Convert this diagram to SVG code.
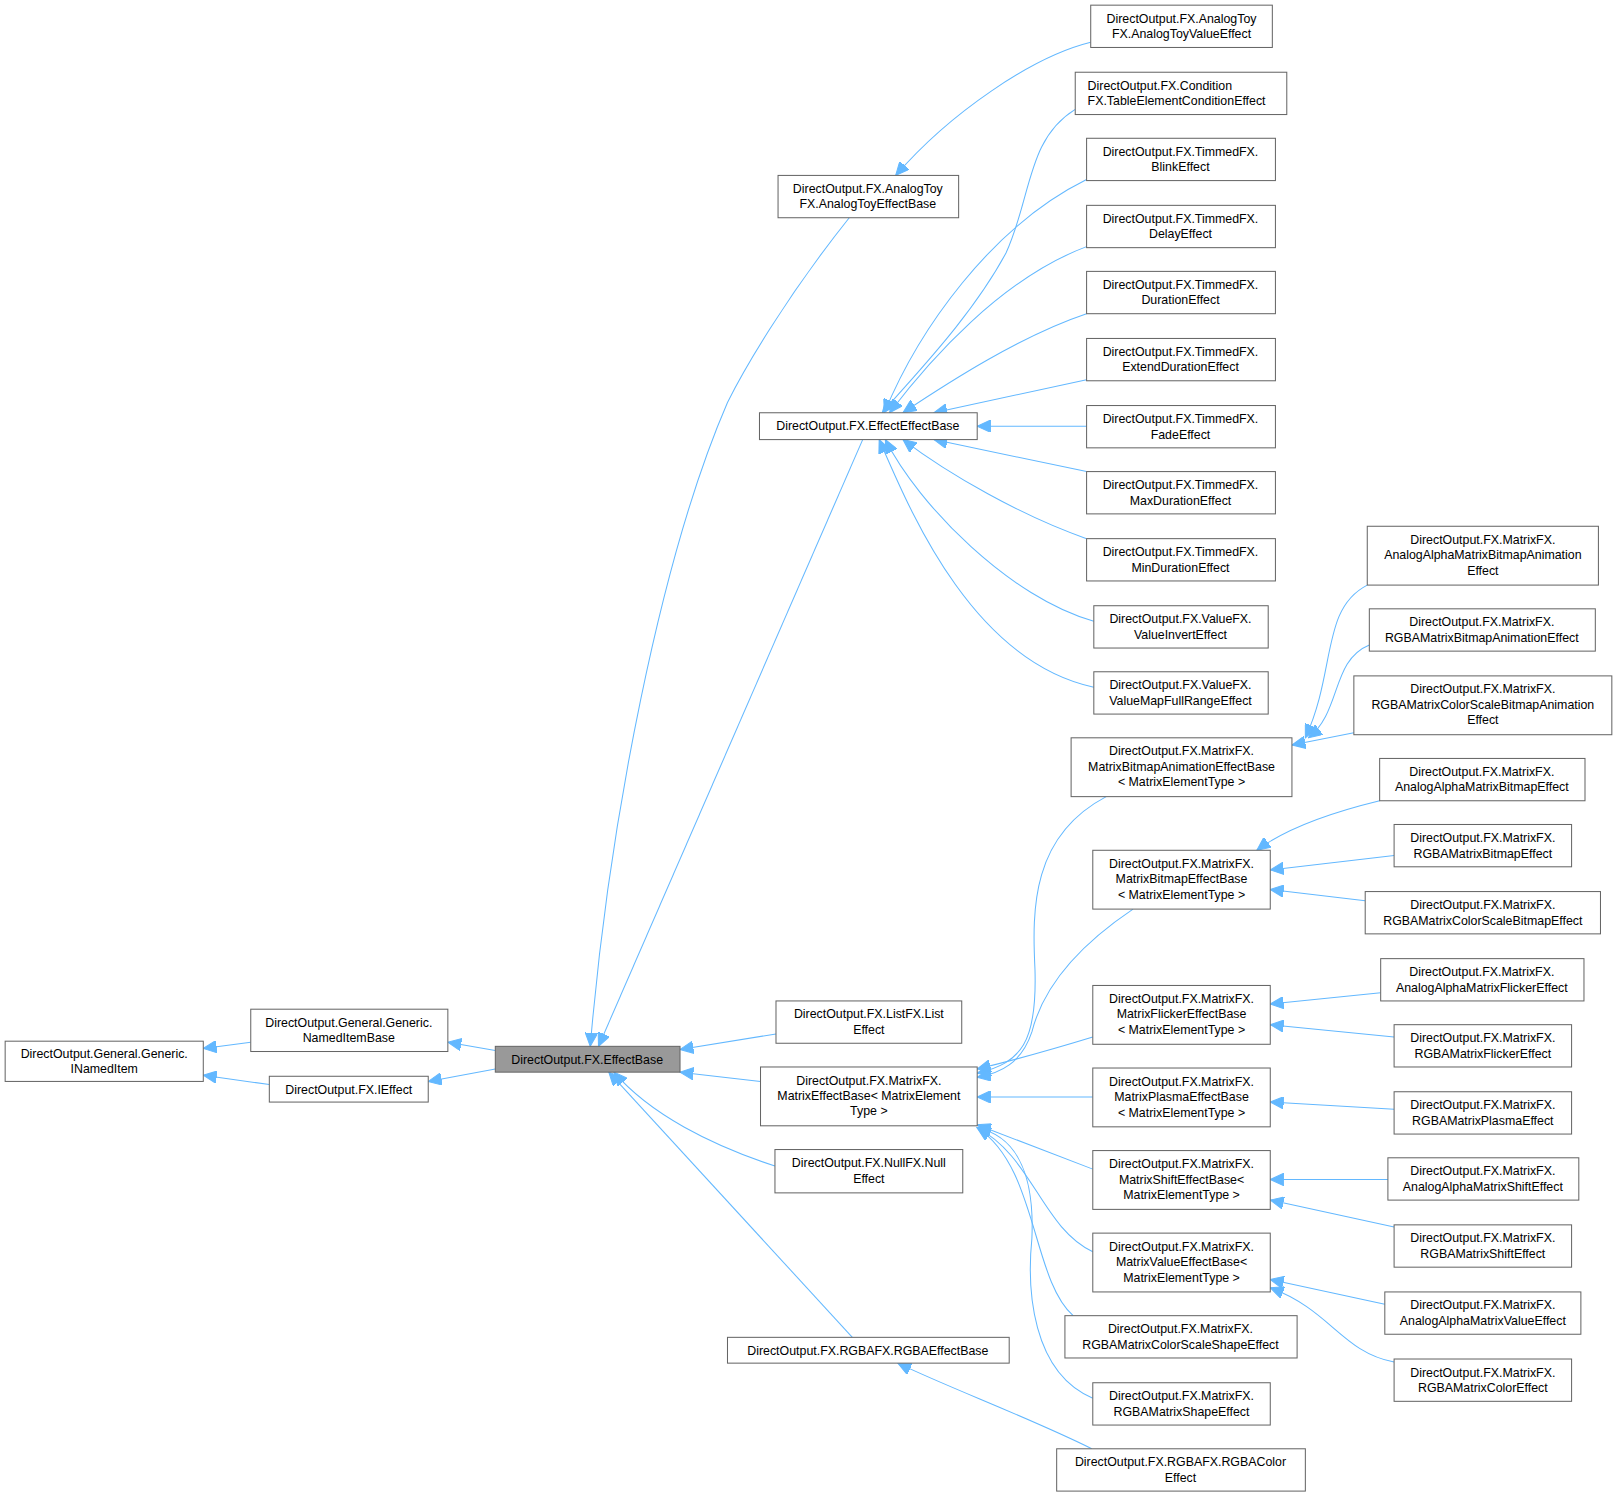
<svg xmlns="http://www.w3.org/2000/svg" width="1618" height="1497" viewBox="0 0 1618 1497">
<style>
.n rect{fill:#fff;stroke:#666;stroke-width:1}
.n text{font-family:"Liberation Sans",Arial,sans-serif;font-size:12px;fill:#000;text-anchor:middle}
#edges path{fill:none;stroke:#63b8ff;stroke-width:1;marker-end:url(#a)}
</style>
<defs><marker id="a" markerUnits="userSpaceOnUse" markerWidth="14" markerHeight="12" refX="13" refY="6" orient="auto"><path d="M0,0 L13,6 L0,12 Z" fill="#63b8ff" stroke="#63b8ff"/></marker></defs>
<rect width="1618" height="1497" fill="#fff"/>
<g transform="scale(1.0319)">
<g id="edges">
<path d="M243,1010 L197,1016"/>
<path d="M261,1051 L197,1042"/>
<path d="M480,1018 L434,1010"/>
<path d="M480,1036 L415,1048"/>
<path d="M823,211 C760,290 720,360 705,390 C640,540 590,800 572,1014"/>
<path d="M836,426 L580,1014"/>
<path d="M752,1002 L659,1017"/>
<path d="M737,1048 L659,1039"/>
<path d="M751,1130 C690,1110 630,1080 595,1039"/>
<path d="M826,1296 L590,1039"/>
<path d="M1058,1404 C1000,1375 920,1345 870,1321"/>
<path d="M1057,41 C1000,55 920,110 868,170"/>
<path d="M1042,106 C995,135 1000,190 975,245 C940,310 880,370 855,400"/>
<path d="M1053,174 C960,220 890,320 857,400"/>
<path d="M1053,239 C970,270 900,350 862,400"/>
<path d="M1053,304 C990,325 920,370 875,400"/>
<path d="M1053,368 L905,400"/>
<path d="M1053,413 L947,413"/>
<path d="M1053,457 L905,426"/>
<path d="M1053,522 C990,500 920,460 875,426"/>
<path d="M1060,602 C980,580 890,490 858,426"/>
<path d="M1060,666 C940,640 880,490 852,426"/>
<path d="M1072,772 C1000,810 1000,880 1003,940 C1005,1010 990,1030 947,1040"/>
<path d="M1098,881 C1040,920 1010,960 1000,1000 C990,1030 970,1040 947,1044"/>
<path d="M1059,1005 C1010,1020 980,1028 947,1036"/>
<path d="M1059,1063 L947,1063"/>
<path d="M1059,1133 L947,1090"/>
<path d="M1059,1213 C1010,1190 1000,1120 947,1093"/>
<path d="M1040,1275 C1000,1240 1005,1130 947,1093"/>
<path d="M1059,1355 C1000,1330 995,1250 1000,1200 C1003,1130 980,1100 947,1093"/>
<path d="M1325,567 C1280,590 1295,650 1265,715"/>
<path d="M1327,625 C1290,640 1300,690 1268,715"/>
<path d="M1312,710 L1252,722"/>
<path d="M1337,776 C1300,785 1250,800 1218,824"/>
<path d="M1351,829 L1231,843"/>
<path d="M1323,873 L1231,862"/>
<path d="M1338,962 L1231,973"/>
<path d="M1351,1005 L1231,993"/>
<path d="M1351,1075 L1231,1068"/>
<path d="M1345,1143 L1231,1143"/>
<path d="M1351,1189 L1231,1163"/>
<path d="M1342,1264 L1231,1240"/>
<path d="M1351,1320 C1300,1310 1290,1270 1231,1248"/>
</g>
<g id="INamedItem" class="n"><rect x="5" y="1009" width="192" height="39"/><text x="101" y="1025">DirectOutput.General.Generic.</text><text x="101" y="1040">INamedItem</text></g>
<g id="NamedItemBase" class="n"><rect x="243" y="978" width="191" height="41"/><text x="338" y="995">DirectOutput.General.Generic.</text><text x="338" y="1010">NamedItemBase</text></g>
<g id="IEffect" class="n"><rect x="261" y="1043" width="154" height="25"/><text x="338" y="1060">DirectOutput.FX.IEffect</text></g>
<g id="EffectBase" class="n"><rect x="480" y="1014" width="179" height="25" style="fill:#999"/><text x="569" y="1031">DirectOutput.FX.EffectBase</text></g>
<g id="AnalogToyEffectBase" class="n"><rect x="754" y="170" width="175" height="41"/><text x="841" y="187">DirectOutput.FX.AnalogToy</text><text x="841" y="202">FX.AnalogToyEffectBase</text></g>
<g id="EffectEffectBase" class="n"><rect x="736" y="400" width="211" height="26"/><text x="841" y="417">DirectOutput.FX.EffectEffectBase</text></g>
<g id="ListEffect" class="n"><rect x="752" y="970" width="180" height="41"/><text x="842" y="987">DirectOutput.FX.ListFX.List</text><text x="842" y="1002">Effect</text></g>
<g id="MatrixEffectBase" class="n"><rect x="737" y="1034" width="210" height="57"/><text x="842" y="1051">DirectOutput.FX.MatrixFX.</text><text x="842" y="1066">MatrixEffectBase&lt; MatrixElement</text><text x="842" y="1081">Type &gt;</text></g>
<g id="NullEffect" class="n"><rect x="751" y="1114" width="182" height="42"/><text x="842" y="1131">DirectOutput.FX.NullFX.Null</text><text x="842" y="1146">Effect</text></g>
<g id="RGBAEffectBase" class="n"><rect x="705" y="1296" width="273" height="25"/><text x="841" y="1313">DirectOutput.FX.RGBAFX.RGBAEffectBase</text></g>
<g id="AnalogToyValueEffect" class="n"><rect x="1057" y="5" width="176" height="41"/><text x="1145" y="22">DirectOutput.FX.AnalogToy</text><text x="1145" y="37">FX.AnalogToyValueEffect</text></g>
<g id="TableElementConditionEffect" class="n"><rect x="1042" y="70" width="205" height="41"/><text x="1054" y="87" style="text-anchor:start">DirectOutput.FX.Condition</text><text x="1054" y="102" style="text-anchor:start">FX.TableElementConditionEffect</text></g>
<g id="BlinkEffect" class="n"><rect x="1053" y="134" width="183" height="41"/><text x="1144" y="151">DirectOutput.FX.TimmedFX.</text><text x="1144" y="166">BlinkEffect</text></g>
<g id="DelayEffect" class="n"><rect x="1053" y="199" width="183" height="41"/><text x="1144" y="216">DirectOutput.FX.TimmedFX.</text><text x="1144" y="231">DelayEffect</text></g>
<g id="DurationEffect" class="n"><rect x="1053" y="263" width="183" height="41"/><text x="1144" y="280">DirectOutput.FX.TimmedFX.</text><text x="1144" y="295">DurationEffect</text></g>
<g id="ExtendDurationEffect" class="n"><rect x="1053" y="328" width="183" height="41"/><text x="1144" y="345">DirectOutput.FX.TimmedFX.</text><text x="1144" y="360">ExtendDurationEffect</text></g>
<g id="FadeEffect" class="n"><rect x="1053" y="393" width="183" height="41"/><text x="1144" y="410">DirectOutput.FX.TimmedFX.</text><text x="1144" y="425">FadeEffect</text></g>
<g id="MaxDurationEffect" class="n"><rect x="1053" y="457" width="183" height="41"/><text x="1144" y="474">DirectOutput.FX.TimmedFX.</text><text x="1144" y="489">MaxDurationEffect</text></g>
<g id="MinDurationEffect" class="n"><rect x="1053" y="522" width="183" height="41"/><text x="1144" y="539">DirectOutput.FX.TimmedFX.</text><text x="1144" y="554">MinDurationEffect</text></g>
<g id="ValueInvertEffect" class="n"><rect x="1060" y="587" width="169" height="41"/><text x="1144" y="604">DirectOutput.FX.ValueFX.</text><text x="1144" y="619">ValueInvertEffect</text></g>
<g id="ValueMapFullRangeEffect" class="n"><rect x="1060" y="651" width="169" height="41"/><text x="1144" y="668">DirectOutput.FX.ValueFX.</text><text x="1144" y="683">ValueMapFullRangeEffect</text></g>
<g id="MatrixBitmapAnimationEffectBase" class="n"><rect x="1038" y="715" width="214" height="57"/><text x="1145" y="732">DirectOutput.FX.MatrixFX.</text><text x="1145" y="747">MatrixBitmapAnimationEffectBase</text><text x="1145" y="762">&lt; MatrixElementType &gt;</text></g>
<g id="MatrixBitmapEffectBase" class="n"><rect x="1059" y="824" width="172" height="57"/><text x="1145" y="841">DirectOutput.FX.MatrixFX.</text><text x="1145" y="856">MatrixBitmapEffectBase</text><text x="1145" y="871">&lt; MatrixElementType &gt;</text></g>
<g id="MatrixFlickerEffectBase" class="n"><rect x="1059" y="955" width="172" height="57"/><text x="1145" y="972">DirectOutput.FX.MatrixFX.</text><text x="1145" y="987">MatrixFlickerEffectBase</text><text x="1145" y="1002">&lt; MatrixElementType &gt;</text></g>
<g id="MatrixPlasmaEffectBase" class="n"><rect x="1059" y="1035" width="172" height="57"/><text x="1145" y="1052">DirectOutput.FX.MatrixFX.</text><text x="1145" y="1067">MatrixPlasmaEffectBase</text><text x="1145" y="1082">&lt; MatrixElementType &gt;</text></g>
<g id="MatrixShiftEffectBase" class="n"><rect x="1059" y="1115" width="172" height="57"/><text x="1145" y="1132">DirectOutput.FX.MatrixFX.</text><text x="1145" y="1147">MatrixShiftEffectBase&lt;</text><text x="1145" y="1162">MatrixElementType &gt;</text></g>
<g id="MatrixValueEffectBase" class="n"><rect x="1059" y="1195" width="172" height="57"/><text x="1145" y="1212">DirectOutput.FX.MatrixFX.</text><text x="1145" y="1227">MatrixValueEffectBase&lt;</text><text x="1145" y="1242">MatrixElementType &gt;</text></g>
<g id="RGBAMatrixColorScaleShapeEffect" class="n"><rect x="1032" y="1275" width="225" height="41"/><text x="1144" y="1292">DirectOutput.FX.MatrixFX.</text><text x="1144" y="1307">RGBAMatrixColorScaleShapeEffect</text></g>
<g id="RGBAMatrixShapeEffect" class="n"><rect x="1059" y="1340" width="172" height="41"/><text x="1145" y="1357">DirectOutput.FX.MatrixFX.</text><text x="1145" y="1372">RGBAMatrixShapeEffect</text></g>
<g id="RGBAColorEffect" class="n"><rect x="1024" y="1404" width="241" height="41"/><text x="1144" y="1421">DirectOutput.FX.RGBAFX.RGBAColor</text><text x="1144" y="1436">Effect</text></g>
<g id="AnalogAlphaMatrixBitmapAnimationEffect" class="n"><rect x="1325" y="510" width="224" height="57"/><text x="1437" y="527">DirectOutput.FX.MatrixFX.</text><text x="1437" y="542">AnalogAlphaMatrixBitmapAnimation</text><text x="1437" y="557">Effect</text></g>
<g id="RGBAMatrixBitmapAnimationEffect" class="n"><rect x="1327" y="590" width="219" height="41"/><text x="1436" y="607">DirectOutput.FX.MatrixFX.</text><text x="1436" y="622">RGBAMatrixBitmapAnimationEffect</text></g>
<g id="RGBAMatrixColorScaleBitmapAnimationEffect" class="n"><rect x="1312" y="655" width="250" height="57"/><text x="1437" y="672">DirectOutput.FX.MatrixFX.</text><text x="1437" y="687">RGBAMatrixColorScaleBitmapAnimation</text><text x="1437" y="702">Effect</text></g>
<g id="AnalogAlphaMatrixBitmapEffect" class="n"><rect x="1337" y="735" width="199" height="41"/><text x="1436" y="752">DirectOutput.FX.MatrixFX.</text><text x="1436" y="767">AnalogAlphaMatrixBitmapEffect</text></g>
<g id="RGBAMatrixBitmapEffect" class="n"><rect x="1351" y="799" width="172" height="41"/><text x="1437" y="816">DirectOutput.FX.MatrixFX.</text><text x="1437" y="831">RGBAMatrixBitmapEffect</text></g>
<g id="RGBAMatrixColorScaleBitmapEffect" class="n"><rect x="1323" y="864" width="228" height="41"/><text x="1437" y="881">DirectOutput.FX.MatrixFX.</text><text x="1437" y="896">RGBAMatrixColorScaleBitmapEffect</text></g>
<g id="AnalogAlphaMatrixFlickerEffect" class="n"><rect x="1338" y="929" width="197" height="41"/><text x="1436" y="946">DirectOutput.FX.MatrixFX.</text><text x="1436" y="961">AnalogAlphaMatrixFlickerEffect</text></g>
<g id="RGBAMatrixFlickerEffect" class="n"><rect x="1351" y="993" width="172" height="41"/><text x="1437" y="1010">DirectOutput.FX.MatrixFX.</text><text x="1437" y="1025">RGBAMatrixFlickerEffect</text></g>
<g id="RGBAMatrixPlasmaEffect" class="n"><rect x="1351" y="1058" width="172" height="41"/><text x="1437" y="1075">DirectOutput.FX.MatrixFX.</text><text x="1437" y="1090">RGBAMatrixPlasmaEffect</text></g>
<g id="AnalogAlphaMatrixShiftEffect" class="n"><rect x="1345" y="1122" width="185" height="41"/><text x="1437" y="1139">DirectOutput.FX.MatrixFX.</text><text x="1437" y="1154">AnalogAlphaMatrixShiftEffect</text></g>
<g id="RGBAMatrixShiftEffect" class="n"><rect x="1351" y="1187" width="172" height="41"/><text x="1437" y="1204">DirectOutput.FX.MatrixFX.</text><text x="1437" y="1219">RGBAMatrixShiftEffect</text></g>
<g id="AnalogAlphaMatrixValueEffect" class="n"><rect x="1342" y="1252" width="190" height="41"/><text x="1437" y="1269">DirectOutput.FX.MatrixFX.</text><text x="1437" y="1284">AnalogAlphaMatrixValueEffect</text></g>
<g id="RGBAMatrixColorEffect" class="n"><rect x="1351" y="1317" width="172" height="41"/><text x="1437" y="1334">DirectOutput.FX.MatrixFX.</text><text x="1437" y="1349">RGBAMatrixColorEffect</text></g>
</g>
</svg>
